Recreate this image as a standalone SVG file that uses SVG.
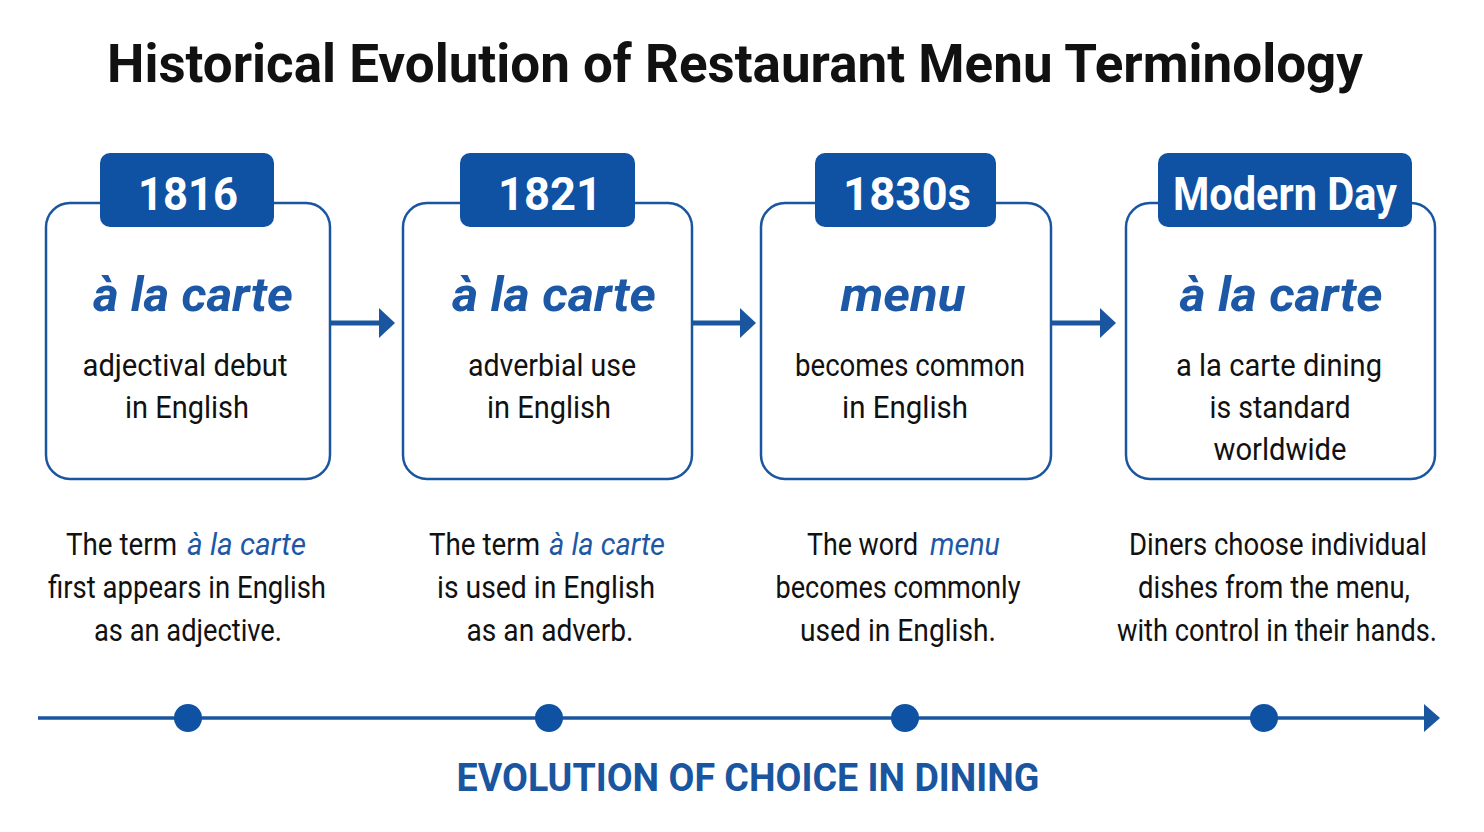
<svg xmlns="http://www.w3.org/2000/svg" width="1484" height="832" viewBox="0 0 1484 832">
<defs>
<style>
.t{font-family:Roboto,"Liberation Sans",sans-serif}
.title{font-size:54px;font-weight:700;fill:#111}
.box{fill:#fff;stroke:#1a55a0;stroke-width:2.5}
.tab{fill:#0f52a3}
.yr{font-size:46px;font-weight:700;fill:#fff}
.head{font-size:48px;font-weight:700;font-style:italic;fill:#1d58a6}
.sub{font-size:31px;fill:#111}
.desc{font-size:31px;fill:#111}
.em{font-style:italic;fill:#1d58a6}
.conn{stroke:#1a55a0;stroke-width:5;fill:none}
.tl{stroke:#1a55a0;stroke-width:3.5;fill:none}
.dot{fill:#0f52a3}
.foot{font-size:38px;font-weight:700;fill:#1a55a0}
</style>
<marker id="ah" viewBox="0 0 16 30" refX="2" refY="15" markerWidth="16" markerHeight="30" markerUnits="userSpaceOnUse" orient="auto"><path d="M0,0 L16,15 L0,30 Z" fill="#1a55a0"/></marker>
<marker id="ah2" viewBox="0 0 16 28" refX="2" refY="14" markerWidth="16" markerHeight="28" markerUnits="userSpaceOnUse" orient="auto"><path d="M0,0 L16,14 L0,28 Z" fill="#1a55a0"/></marker>
</defs>
<rect width="1484" height="832" fill="#fff"/>
<text class="t title" x="735" y="82" text-anchor="middle" textLength="1256" lengthAdjust="spacingAndGlyphs">Historical Evolution of Restaurant Menu Terminology</text>

<g id="connectors">
<line class="conn" x1="331" y1="323" x2="381" y2="323" marker-end="url(#ah)"/>
<line class="conn" x1="693" y1="323" x2="742" y2="323" marker-end="url(#ah)"/>
<line class="conn" x1="1052" y1="323" x2="1102" y2="323" marker-end="url(#ah)"/>
</g>

<g id="node-1816">
<rect class="box" x="46" y="203" width="284" height="276" rx="24"/>
<rect class="tab" x="100" y="153" width="174" height="74" rx="10"/>
<text class="t yr" x="188" y="210" text-anchor="middle" textLength="100" lengthAdjust="spacingAndGlyphs">1816</text>
<text class="t head" x="193" y="311" text-anchor="middle" textLength="200" lengthAdjust="spacingAndGlyphs">à la carte</text>
<text class="t sub" x="185" y="376" text-anchor="middle" textLength="205" lengthAdjust="spacingAndGlyphs">adjectival debut</text>
<text class="t sub" x="187" y="418" text-anchor="middle" textLength="124" lengthAdjust="spacingAndGlyphs">in English</text>
</g>

<g id="node-1821">
<rect class="box" x="403" y="203" width="289" height="276" rx="24"/>
<rect class="tab" x="460" y="153" width="175" height="74" rx="10"/>
<text class="t yr" x="550" y="210" text-anchor="middle" textLength="104" lengthAdjust="spacingAndGlyphs">1821</text>
<text class="t head" x="554" y="311" text-anchor="middle" textLength="204" lengthAdjust="spacingAndGlyphs">à la carte</text>
<text class="t sub" x="552" y="376" text-anchor="middle" textLength="168" lengthAdjust="spacingAndGlyphs">adverbial use</text>
<text class="t sub" x="549" y="418" text-anchor="middle" textLength="124" lengthAdjust="spacingAndGlyphs">in English</text>
</g>

<g id="node-1830s">
<rect class="box" x="761" y="203" width="290" height="276" rx="24"/>
<rect class="tab" x="815" y="153" width="181" height="74" rx="10"/>
<text class="t yr" x="907" y="210" text-anchor="middle" textLength="128" lengthAdjust="spacingAndGlyphs">1830s</text>
<text class="t head" x="903" y="311" text-anchor="middle" textLength="125" lengthAdjust="spacingAndGlyphs">menu</text>
<text class="t sub" x="910" y="376" text-anchor="middle" textLength="230" lengthAdjust="spacingAndGlyphs">becomes common</text>
<text class="t sub" x="905" y="418" text-anchor="middle" textLength="126" lengthAdjust="spacingAndGlyphs">in English</text>
</g>

<g id="node-modern">
<rect class="box" x="1126" y="203" width="309" height="276" rx="24"/>
<rect class="tab" x="1158" y="153" width="254" height="74" rx="10"/>
<text class="t yr" x="1285" y="210" text-anchor="middle" textLength="224" lengthAdjust="spacingAndGlyphs">Modern Day</text>
<text class="t head" x="1281" y="311" text-anchor="middle" textLength="203" lengthAdjust="spacingAndGlyphs">à la carte</text>
<text class="t sub" x="1279" y="376" text-anchor="middle" textLength="206" lengthAdjust="spacingAndGlyphs">a la carte dining</text>
<text class="t sub" x="1280" y="418" text-anchor="middle" textLength="141" lengthAdjust="spacingAndGlyphs">is standard</text>
<text class="t sub" x="1280" y="460" text-anchor="middle" textLength="133" lengthAdjust="spacingAndGlyphs">worldwide</text>
</g>

<g id="desc-1816">
<text class="t desc" x="66" y="555" textLength="111" lengthAdjust="spacingAndGlyphs">The term</text>
<text class="t desc em" x="187" y="555" textLength="119" lengthAdjust="spacingAndGlyphs">à la carte</text>
<text class="t desc" x="187" y="598" text-anchor="middle" textLength="278" lengthAdjust="spacingAndGlyphs">first appears in English</text>
<text class="t desc" x="188" y="641" text-anchor="middle" textLength="188" lengthAdjust="spacingAndGlyphs">as an adjective.</text>
</g>
<g id="desc-1821">
<text class="t desc" x="429" y="555" textLength="111" lengthAdjust="spacingAndGlyphs">The term</text>
<text class="t desc em" x="549" y="555" textLength="116" lengthAdjust="spacingAndGlyphs">à la carte</text>
<text class="t desc" x="546" y="598" text-anchor="middle" textLength="218" lengthAdjust="spacingAndGlyphs">is used in English</text>
<text class="t desc" x="550" y="641" text-anchor="middle" textLength="167" lengthAdjust="spacingAndGlyphs">as an adverb.</text>
</g>
<g id="desc-1830s">
<text class="t desc" x="807" y="555" textLength="111" lengthAdjust="spacingAndGlyphs">The word</text>
<text class="t desc em" x="930" y="555" textLength="70" lengthAdjust="spacingAndGlyphs">menu</text>
<text class="t desc" x="898" y="598" text-anchor="middle" textLength="245" lengthAdjust="spacingAndGlyphs">becomes commonly</text>
<text class="t desc" x="898" y="641" text-anchor="middle" textLength="196" lengthAdjust="spacingAndGlyphs">used in English.</text>
</g>
<g id="desc-modern">
<text class="t desc" x="1278" y="555" text-anchor="middle" textLength="298" lengthAdjust="spacingAndGlyphs">Diners choose individual</text>
<text class="t desc" x="1274" y="598" text-anchor="middle" textLength="272" lengthAdjust="spacingAndGlyphs">dishes from the menu,</text>
<text class="t desc" x="1277" y="641" text-anchor="middle" textLength="320" lengthAdjust="spacingAndGlyphs">with control in their hands.</text>
</g>

<g id="timeline">
<line class="tl" x1="38" y1="718" x2="1426" y2="718" marker-end="url(#ah2)"/>
<circle class="dot" cx="188" cy="718" r="14"/>
<circle class="dot" cx="549" cy="718" r="14"/>
<circle class="dot" cx="905" cy="718" r="14"/>
<circle class="dot" cx="1264" cy="718" r="14"/>
</g>
<text class="t foot" x="748" y="791" text-anchor="middle" textLength="583" lengthAdjust="spacingAndGlyphs">EVOLUTION OF CHOICE IN DINING</text>
</svg>
